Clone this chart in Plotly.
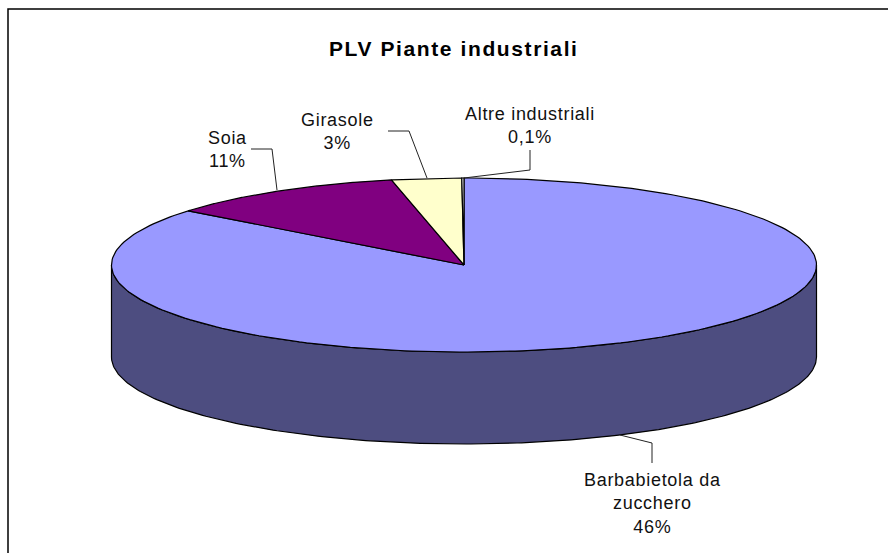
import numpy as np
import plotly.graph_objects as go

# Data
categories = [["Barbabietola da", "zucchero"], ["Soia"], ["Girasole"], ["Altre industriali"]]
shown_labels = ["46%", "11%", "3%", "0,1%"]
slice_shares = [85.7, 11.0, 3.2, 0.1]
top_colors = ["#9999FF", "#800080", "#FFFFCC", "#FFFFFF"]
side_color = "#4D4D80"
title_text = "PLV Piante industriali"

# Pie geometry in page pixels
W, H = 888, 553
CX, CY, RX, RY, DEPTH = 464, 265, 352.5, 87, 92


def rim(a0, a1, cy=CY, n=240):
    """Ellipse points clockwise from 12 o'clock, angles in degrees."""
    t = np.radians(np.linspace(a0, a1, n))
    return CX + RX * np.sin(t), cy - RY * np.cos(t)


fig = go.Figure()
line = dict(color="black", width=1.2)


def add_poly(x, y, color):
    fig.add_trace(go.Scatter(x=list(x), y=list(y), mode="lines", fill="toself",
                             fillcolor=color, line=line, hoverinfo="skip",
                             showlegend=False))


# Side wall: the visible front half of the cylinder
x_bot, y_bot = rim(90, 270, CY + DEPTH)
x_top, y_top = rim(270, 90, CY)
add_poly(np.r_[x_bot, x_top, x_bot[0]], np.r_[y_bot, y_top, y_bot[0]], side_color)

# Top face slices
edges = np.cumsum([0] + slice_shares) / sum(slice_shares) * 360
for i, color in enumerate(top_colors):
    xs, ys = rim(edges[i], edges[i + 1])
    add_poly(np.r_[CX, xs, CX], np.r_[CY, ys, CY], color)

# Leader lines: label end, elbow, then the point on the pie
leaders = [
    ([251, 272, 277], [149, 149, 190]),
    ([388, 409, 427], [131, 131, 178]),
    ([530, 530, 464], [150, 170, 178]),
    ([652, 652, 620], [463, 443, 435]),
]
for lx, ly in leaders:
    fig.add_trace(go.Scatter(x=lx, y=ly, mode="lines", hoverinfo="skip", showlegend=False,
                             line=dict(color="#222222", width=1)))


def spaced(text, px):
    return f'<span style="letter-spacing:{px}px">{text}</span>'


# Labels
font = dict(family="Liberation Sans, Arial, sans-serif", size=18, color="#111111")
label_pos = [(652, 503), (227, 149), (337, 131), (530, 125)]
for lines, pct, (x, y) in zip(categories, shown_labels, label_pos):
    text = "<br>".join(spaced(t, 0.7) for t in [*lines, pct])
    fig.add_annotation(x=x, y=y, text=text, showarrow=False, font=font,
                       align="center", xanchor="center", yanchor="middle")
fig.add_annotation(x=454, y=48, text=f"<b>{spaced(title_text, 1.6)}</b>",
                   showarrow=False, xanchor="center", yanchor="middle",
                   font=dict(family="Liberation Sans, Arial, sans-serif", size=21, color="black"))

# Chart frame (right and bottom sides fall outside the page)
fig.add_shape(type="rect", x0=8, y0=9, x1=W + 20, y1=H + 20, layer="below",
              line=dict(color="black", width=1.5))

fig.update_layout(
    width=W, height=H, margin=dict(l=0, r=0, t=0, b=0), autosize=False,
    paper_bgcolor="white", plot_bgcolor="white", showlegend=False,
    xaxis=dict(range=[0, W], visible=False, fixedrange=True),
    yaxis=dict(range=[H, 0], visible=False, fixedrange=True),
)
fig.write_html("out.html", config=dict(displayModeBar=False),
               post_script="document.body.style.margin='0';document.body.style.overflow='hidden';")
